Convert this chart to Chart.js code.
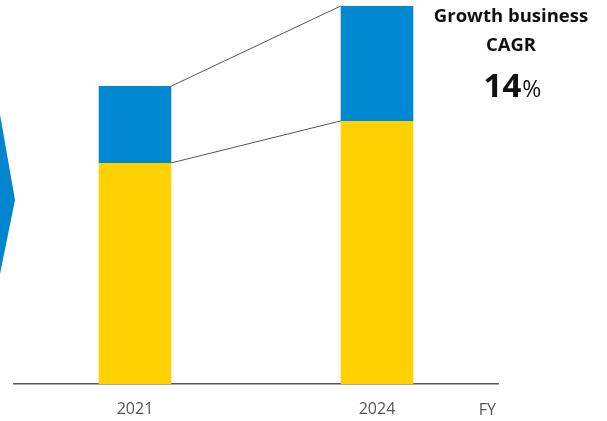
<!DOCTYPE html>
<html>
<head>
<meta charset="utf-8">
<script src="https://cdn.jsdelivr.net/npm/chart.js@4/dist/chart.umd.min.js"></script>
<style>
  html, body { margin: 0; padding: 0; background: #fff; }
  #wrap { width: 607px; height: 421px; position: relative; }
</style>
</head>
<body>
<div id="wrap"><canvas id="c"></canvas></div>
<script>
const categories = ['2021', '2024'];
const baseValues = [73.7, 87.7];      // yellow segment
const growthValues = [25.6, 38.3];    // blue segment (growth business)
const yMax = 128;
const axisUnitLabel = 'FY';
const headline = ['Growth business', 'CAGR'];
const cagrValue = '14';
const cagrUnit = '%';

const FONT = '"Open Sans", "Noto Sans", sans-serif';

const decor = {
  id: 'decor',
  beforeDatasetsDraw(chart) {
    const ctx = chart.ctx;
    // left chevron arrow (partially off-canvas)
    ctx.save();
    ctx.fillStyle = '#0085cf';
    ctx.beginPath();
    ctx.moveTo(-2, 103);
    ctx.lineTo(15, 200);
    ctx.lineTo(-2, 284);
    ctx.closePath();
    ctx.fill();
    ctx.restore();
  },
  afterDatasetsDraw(chart) {
    const ctx = chart.ctx;
    const m0 = chart.getDatasetMeta(0).data;
    const m1 = chart.getDatasetMeta(1).data;
    ctx.save();
    ctx.strokeStyle = '#555';
    ctx.lineWidth = 1;
    [m0, m1].forEach(d => {
      const a = d[0], b = d[1];
      ctx.beginPath();
      ctx.moveTo(a.x + a.width / 2, a.y);
      ctx.lineTo(b.x - b.width / 2, b.y);
      ctx.stroke();
    });
    // FY label
    const xs = chart.scales.x;
    ctx.fillStyle = '#555';
    ctx.font = '16px ' + FONT;
    ctx.textAlign = 'right';
    ctx.textBaseline = 'middle';
    ctx.fillText(axisUnitLabel, xs.right - 2, 410);
    // headline
    ctx.fillStyle = '#111';
    ctx.textAlign = 'center';
    ctx.font = 'bold 18.5px ' + FONT;
    ctx.fillText(headline[0], 511, 17);
    ctx.fillText(headline[1], 511, 46);
    ctx.font = 'bold 33px ' + FONT;
    const w1 = ctx.measureText(cagrValue).width;
    ctx.font = '23px ' + FONT;
    const w2 = ctx.measureText(cagrUnit).width;
    const start = 512 - (w1 + w2) / 2;
    ctx.textAlign = 'left';
    ctx.textBaseline = 'alphabetic';
    ctx.font = 'bold 33px ' + FONT;
    ctx.fillText(cagrValue, start, 97);
    ctx.font = '23px ' + FONT;
    ctx.fillText(cagrUnit, start + w1 + 1, 97);
    ctx.restore();
  }
};

new Chart(document.getElementById('c'), {
  type: 'bar',
  data: {
    labels: categories,
    datasets: [
      { label: 'Base', data: baseValues, backgroundColor: '#ffd100', borderWidth: 0,
        barPercentage: 0.3, categoryPercentage: 1 },
      { label: 'Growth', data: growthValues, backgroundColor: '#0088d1', borderWidth: 0,
        barPercentage: 0.3, categoryPercentage: 1 }
    ]
  },
  options: {
    responsive: true,
    maintainAspectRatio: false,
    animation: false,
    layout: { padding: { left: 14, right: 109, top: 0, bottom: 0 } },
    plugins: { legend: { display: false }, tooltip: { enabled: false } },
    scales: {
      x: {
        stacked: true,
        grid: { display: false, drawTicks: false },
        border: { display: true, color: '#555', width: 1.5 },
        ticks: { color: '#555', font: { family: FONT, size: 16 }, padding: 16 },
        afterFit(scale) { scale.height = 37; }
      },
      y: {
        stacked: true,
        display: false,
        min: 0,
        max: yMax
      }
    }
  },
  plugins: [decor]
});
</script>
</body>
</html>
